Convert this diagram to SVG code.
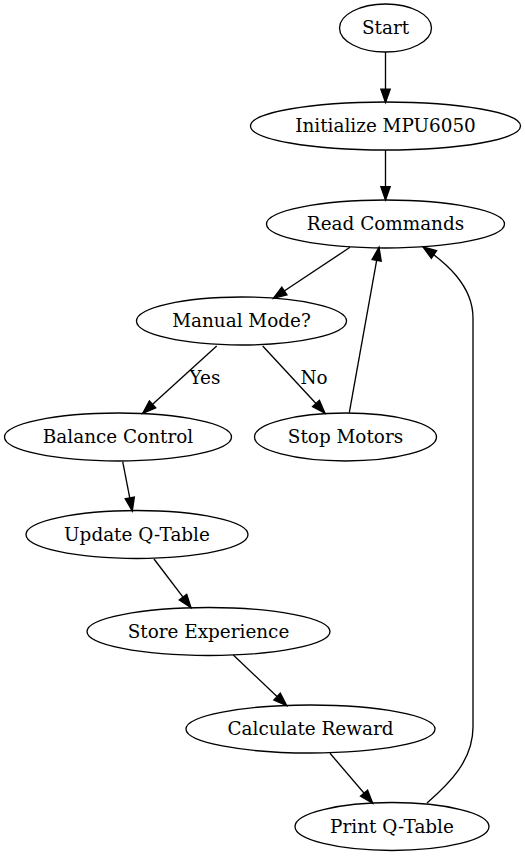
<svg xmlns="http://www.w3.org/2000/svg" width="525" height="856" viewBox="0 0 525 856">
<defs>
<marker id="arr" markerUnits="userSpaceOnUse" markerWidth="16" markerHeight="12" refX="13.3" refY="4.67" orient="auto" overflow="visible">
<path d="M0,0 L13.3,4.67 L0,9.33 z" fill="#000" stroke="#000" stroke-width="1.33"/>
</marker>
<style>
.n ellipse{fill:none;stroke:#000;stroke-width:1.33}
text{font-family:"DejaVu Serif","Liberation Serif",serif;font-size:18.4px;fill:#000;text-anchor:middle}
.e path{fill:none;stroke:#000;stroke-width:1.33;marker-end:url(#arr)}
</style>
</defs>
<rect width="525" height="856" fill="#fff"/>
<g id="edges" class="e">
<path d="M385.5,52 L385.5,102.5"/>
<path d="M385.5,150 L385.5,200"/>
<path d="M350,247.3 L273.3,298.3"/>
<path d="M349.3,412.7 L379,247.3"/>
<path d="M427,803 C450,783 473,760 473,727 L473,318 C473,285 445,262 423,247"/>
<path d="M216.7,346 L142.7,413.3"/>
<path d="M262.7,346 L325,413.3"/>
<path d="M122.7,461.7 L132.3,511"/>
<path d="M154,559 L191,607.7"/>
<path d="M233.3,655 L286.7,705.7"/>
<path d="M330,753.3 L372.7,803.3"/>
<text x="205" y="384">Yes</text>
<text x="314" y="384">No</text>
</g>
<g id="start" class="n"><ellipse cx="385.5" cy="28" rx="46" ry="24"/><text x="385.5" y="34">Start</text></g>
<g id="init" class="n"><ellipse cx="385.5" cy="126" rx="135" ry="24"/><text x="385.5" y="132">Initialize MPU6050</text></g>
<g id="read" class="n"><ellipse cx="385.5" cy="224" rx="119" ry="24"/><text x="385.5" y="230">Read Commands</text></g>
<g id="manual" class="n"><ellipse cx="241.5" cy="321" rx="105" ry="24"/><text x="241.5" y="327">Manual Mode?</text></g>
<g id="balance" class="n"><ellipse cx="118" cy="437" rx="113.5" ry="24"/><text x="118" y="443">Balance Control</text></g>
<g id="stop" class="n"><ellipse cx="345.5" cy="437" rx="91" ry="24"/><text x="345.5" y="443">Stop Motors</text></g>
<g id="update" class="n"><ellipse cx="137" cy="534.5" rx="111" ry="24"/><text x="137" y="540.5">Update Q-Table</text></g>
<g id="store" class="n"><ellipse cx="208.5" cy="631.5" rx="121.5" ry="24"/><text x="208.5" y="637.5">Store Experience</text></g>
<g id="calc" class="n"><ellipse cx="310.5" cy="729" rx="124.5" ry="24"/><text x="310.5" y="735">Calculate Reward</text></g>
<g id="print" class="n"><ellipse cx="392" cy="826.5" rx="97" ry="24"/><text x="392" y="832.5">Print Q-Table</text></g>
</svg>
